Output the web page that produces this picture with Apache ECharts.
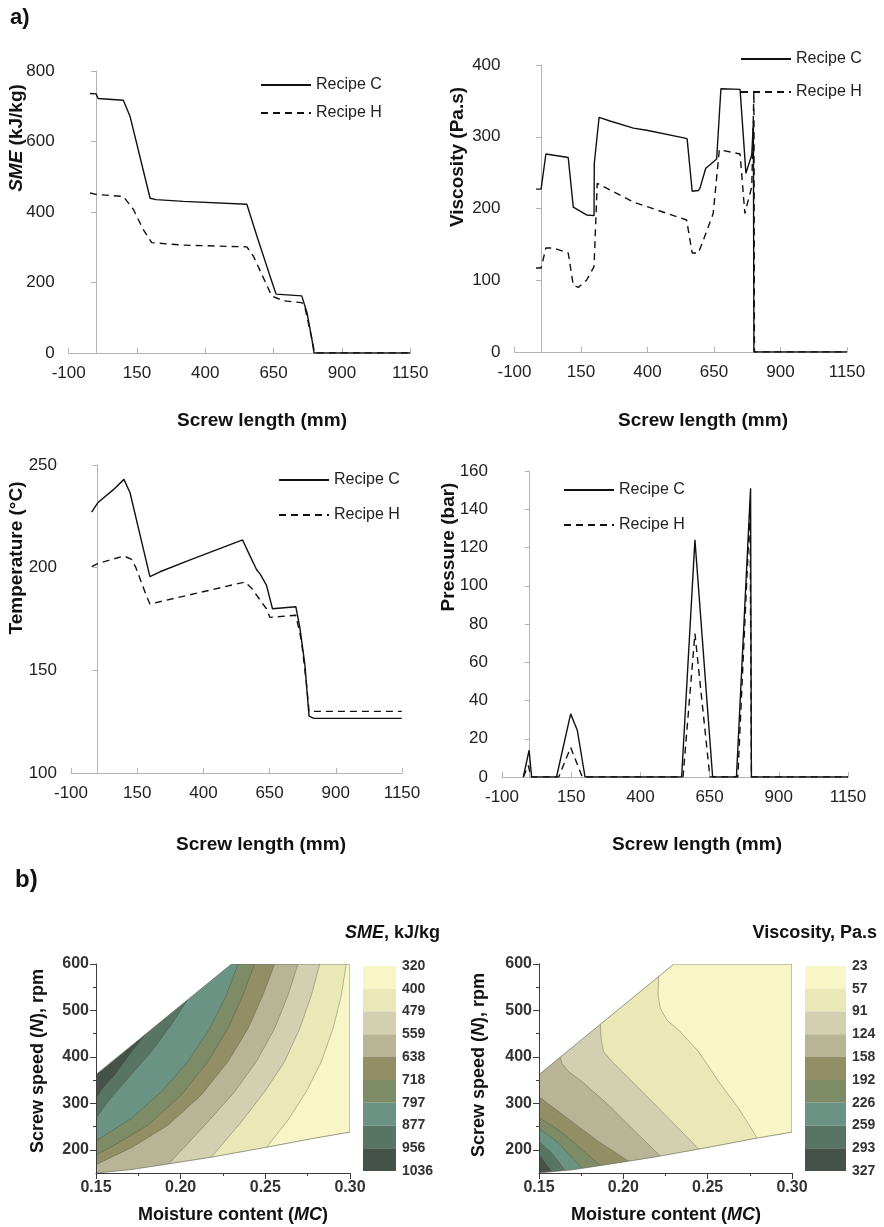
<!DOCTYPE html>
<html>
<head>
<meta charset="utf-8">
<script src="https://cdn.jsdelivr.net/npm/echarts@6/dist/echarts.min.js"></script>
<style>
  html, body { margin: 0; padding: 0; background: #fff; }
  #chart { width: 884px; height: 1227px; }
</style>
</head>
<body>
<div id="chart"></div>
<script>
const FONT = '"Liberation Sans", Arial, Helvetica, sans-serif';

// ---------- a) profiles along the screw ----------
const screwTicks = [-100, 150, 400, 650, 900, 1150];

const smeC = [[-22,736],[0,735],[8,722],[100,717],[125,670],[198,439],[220,435],[320,430],[552,422],[589,331],[637,218],[659,167],[753,162],[772,115],[790,40],[798,0],[1150,0]];
const smeH = [[-22,454],[0,450],[100,444],[137,407],[173,350],[204,313],[320,306],[552,301],[576,275],[643,162],[686,148],[753,143],[765,128],[790,40],[800,0],[1150,0]];

const viscC = [[-19,227],[0,227],[18,276],[102,271],[121,202],[171,191],[199,190],[200,263],[218,327],[259,322],[347,312],[353,310],[397,309],[541,298],[549,297],[568,224],[591,225],[597,228],[619,256],[635,261],[660,269],[666,270],[676,367],[748,366],[770,249],[792,275],[798,321],[800,0],[1150,0]];
const viscH = [[-19,117],[0,117],[18,145],[46,145],[102,138],[121,93],[140,90],[171,100],[199,119],[211,235],[347,209],[547,184],[568,138],[591,138],[610,156],[647,193],[670,282],[748,276],[766,193],[779,212],[792,230],[800,363],[802,0],[1150,0]];

const tempC = [[-22,227],[1,231.6],[60,238],[100,243],[123,236.5],[198,195.6],[236,198],[355,204],[548,213.5],[575,206],[601,199],[614,197],[638,191.5],[661,180],[749,181],[764,171],[783,153],[799,127.7],[817,126.6],[1149,126.6]];
const tempH = [[-22,200.5],[1,202],[100,205.7],[129,204],[145,200],[186,185.9],[198,182.3],[557,193],[582,190],[638,180],[651,175.8],[749,176.8],[770,164.7],[789,143.7],[799,130],[1149,130]];

const pressC = [[-23,0],[-2,14],[7,0],[97,0],[148,33],[172,24.5],[200,0],[549,0],[597,124],[661,0],[747,0],[798,151],[801,0],[1150,0]];
const pressH = [[-23,0],[-5,6],[5,0],[105,0],[148,15.5],[190,0],[554,0],[597,75],[651,0],[752,0],[796,140],[801,0],[1150,0]];

// ---------- b) response surfaces ----------
const mcTicks = [0.15, 0.20, 0.25, 0.30];
const mcMinorTicks = [0.175, 0.225, 0.275];
const speedTicks = [200, 300, 400, 500, 600];
const speedMinorTicks = [250, 350, 450, 550];

// band colours, lightest (lowest level) first
const bandColors = ['#f8f5c6', '#ebe8b7', '#d2d0b0', '#b7b596', '#928f66', '#7e8b67', '#6b9384', '#587464', '#45524a'];
const smeLevels = ['320', '400', '479', '559', '638', '718', '797', '877', '956', '1036'];
const viscLevels = ['23', '57', '91', '124', '158', '192', '226', '259', '293', '327'];

// experimental region (MC, N)
const domainUpper = [[0.15,150],[0.15,362],[0.23,600],[0.30,600],[0.30,238]];
const lowerEdge = [[0.15,150],[0.17,157],[0.19,168],[0.218,184],[0.25,205],[0.279,225],[0.30,238]];

// iso-lines, from the lightest band boundary to the darkest
const smeContours = [
  [[0.2978,600],[0.2949,533],[0.2900,461],[0.2831,390],[0.2742,325],[0.2634,264],[0.2506,204.5]],
  [[0.2821,600],[0.2772,533],[0.2703,461],[0.2614,390],[0.2496,325],[0.2358,260],[0.2181,184]],
  [[0.2693,600],[0.2634,533],[0.2555,461],[0.2447,390],[0.2319,325],[0.2161,260],[0.1929,169.5]],
  [[0.2555,600],[0.2486,533],[0.2398,461],[0.2280,390],[0.2122,318],[0.1925,253],[0.1709,204.5],[0.15,168]],
  [[0.2437,600],[0.2368,533],[0.2280,461],[0.2161,390],[0.2004,318],[0.1807,253],[0.1610,210],[0.15,189]],
  [[0.2339,600],[0.2270,533],[0.2171,461],[0.2043,390],[0.1886,325],[0.1709,268],[0.15,219]],
  [[0.2043,524],[0.1945,469],[0.1827,411],[0.1689,354],[0.1571,304],[0.15,268]],
  [[0.1797,450],[0.1709,411],[0.1610,361],[0.1531,329],[0.15,311]]
];
const viscContours = [
  [[0.2209,573],[0.2206,533],[0.2219,504.5],[0.2259,479],[0.2328,458],[0.2447,411],[0.2565,347],[0.2684,289],[0.2792,226]],
  [[0.1864,470.5],[0.1868,440],[0.1883,411],[0.1933,390],[0.2032,354],[0.2170,304],[0.2308,253],[0.2447,201.5]],
  [[0.1626,400],[0.1636,386],[0.1676,368],[0.1755,347],[0.1913,296],[0.2071,239],[0.2219,186.5]],
  [[0.15,314],[0.1577,293],[0.1696,260.5],[0.1854,217.5],[0.2032,175.5]],
  [[0.15,269],[0.1617,242.5],[0.1735,207],[0.1864,166]],
  [[0.15,246],[0.1617,214],[0.1755,160]],
  [[0.15,217.5],[0.1577,192.4],[0.1656,155.5]],
  [[0.15,189],[0.1577,152.7]]
];

// ---------- helpers ----------
const AXIS_GREY = '#b4b4b4';

function lineAxes(gi, ymin, ymax, yint) {
  return {
    x: {
      type: 'value', gridIndex: gi, min: -100, max: 1150,
      axisLine: { show: true, lineStyle: { color: AXIS_GREY, width: 1 } },
      axisTick: { show: true, inside: true, length: 5, customValues: screwTicks, lineStyle: { color: AXIS_GREY } },
      axisLabel: { customValues: screwTicks, formatter: v => String(v), fontSize: 17, color: '#222', margin: 12, fontFamily: FONT },
      splitLine: { show: false }
    },
    y: {
      type: 'value', gridIndex: gi, min: ymin, max: ymax, interval: yint,
      axisLine: { show: true, onZero: true, lineStyle: { color: AXIS_GREY, width: 1 } },
      axisTick: { show: true, length: 5, lineStyle: { color: AXIS_GREY } },
      axisLabel: { formatter: v => String(v), fontSize: 17, color: '#222', margin: 14, fontFamily: FONT },
      splitLine: { show: false }
    }
  };
}

function lineSeries(name, data, gi, dashed) {
  return {
    type: 'line', name: name, data: data, xAxisIndex: gi, yAxisIndex: gi,
    symbol: 'none', showSymbol: false, smooth: false, silent: true,
    itemStyle: { color: '#111' },
    lineStyle: { color: '#111', width: 1.4, type: dashed ? [7, 5] : 'solid' }
  };
}

function contourAxes(gi) {
  const ls = { color: '#3c3c3c', width: 1 };
  const lab = { fontSize: 16, fontWeight: 'bold', color: '#333', fontFamily: FONT };
  return {
    x: [
      { type: 'value', gridIndex: gi, min: 0.15, max: 0.30, position: 'bottom', z: 5,
        axisLine: { show: true, onZero: false, lineStyle: ls },
        axisTick: { show: true, length: 6, customValues: mcTicks, lineStyle: ls },
        axisLabel: Object.assign({ customValues: mcTicks, margin: 7, formatter: v => v.toFixed(2) }, lab),
        splitLine: { show: false } },
      { type: 'value', gridIndex: gi, min: 0.15, max: 0.30, position: 'bottom', z: 5,
        axisLine: { show: false, onZero: false },
        axisTick: { show: true, length: 3, customValues: mcMinorTicks, lineStyle: ls },
        axisLabel: { show: false }, splitLine: { show: false } }
    ],
    y: [
      { type: 'value', gridIndex: gi, min: 150, max: 600, position: 'left', z: 5,
        axisLine: { show: true, onZero: false, lineStyle: ls },
        axisTick: { show: true, length: 6, customValues: speedTicks, lineStyle: ls },
        axisLabel: Object.assign({ customValues: speedTicks, margin: 7 }, lab),
        splitLine: { show: false } },
      { type: 'value', gridIndex: gi, min: 150, max: 600, position: 'left', z: 5,
        axisLine: { show: false, onZero: false },
        axisTick: { show: true, length: 3, customValues: speedMinorTicks, lineStyle: ls },
        axisLabel: { show: false }, splitLine: { show: false } }
    ]
  };
}

// point pushed outside the plotting window, away from the region
function extendPoint(p) {
  if (p[0] <= 0.1501) return [0.10, p[1]];
  if (p[1] > 300) return [p[0], 700];
  return [p[0], 100];
}

function contourRenderer(contours, corners) {
  return function (params, api) {
    const P = pts => pts.map(p => api.coord(p));
    const domain = domainUpper.concat(lowerEdge.slice().reverse());
    const children = [];
    children.push({ type: 'polygon', shape: { points: P(domain) }, style: { fill: bandColors[bandColors.length - 1] } });
    for (let k = contours.length - 1; k >= 0; k--) {
      const c = contours[k];
      const poly = [extendPoint(c[0])].concat(c, [extendPoint(c[c.length - 1])], corners);
      children.push({ type: 'polygon', shape: { points: P(poly) }, style: { fill: bandColors[k] } });
    }
    contours.forEach(c => {
      children.push({ type: 'polyline', shape: { points: P(c) }, style: { stroke: 'rgba(70,72,50,0.45)', lineWidth: 0.8, fill: null } });
    });
    // blank out everything outside the experimental region
    const upperMask = [[0.15,362],[0.23,600],[0.23,700],[0.10,700],[0.10,362]];
    const lowerMask = lowerEdge.concat([[0.40,238],[0.40,100],[0.10,100],[0.10,150]]);
    children.push({ type: 'polygon', shape: { points: P(upperMask) }, style: { fill: '#fff' } });
    children.push({ type: 'polygon', shape: { points: P(lowerMask) }, style: { fill: '#fff' } });
    children.push({ type: 'polygon', shape: { points: P(domain) }, style: { fill: null, stroke: 'rgba(110,112,95,0.7)', lineWidth: 1 } });
    return { type: 'group', children: children };
  };
}

function colorbarSeries(gi) {
  return {
    type: 'custom', xAxisIndex: gi, yAxisIndex: gi, silent: true,
    data: bandColors.map((c, i) => [0, i]),
    renderItem: function (params, api) {
      const i = api.value(1);
      const a = api.coord([0, i]);
      const b = api.coord([1, i + 1]);
      return { type: 'rect', shape: { x: a[0], y: a[1], width: b[0] - a[0], height: b[1] - a[1] }, style: { fill: bandColors[i] } };
    }
  };
}

function colorbarAxes(gi, levels) {
  return {
    x: { type: 'value', gridIndex: gi, min: 0, max: 1, show: false },
    y: { type: 'value', gridIndex: gi, min: 0, max: 9, interval: 1, inverse: true, position: 'right',
         axisLine: { show: false }, axisTick: { show: false }, splitLine: { show: false },
         axisLabel: { formatter: v => levels[v], margin: 6, fontSize: 14, fontWeight: 'bold', color: '#333', fontFamily: FONT } }
  };
}

function text(str, x, y, opts) {
  const o = Object.assign({ fontSize: 19, fontWeight: 'bold', align: 'center', rotate: false }, opts || {});
  return {
    type: 'text', x: x, y: y, rotation: o.rotate ? Math.PI / 2 : 0, silent: true,
    style: {
      text: str, fill: '#111', fontFamily: FONT, fontSize: o.fontSize, fontWeight: o.fontWeight,
      align: o.align, verticalAlign: 'middle',
      rich: { i: { fontStyle: 'italic', fontWeight: o.fontWeight, fontSize: o.fontSize, fontFamily: FONT, fill: '#111' } }
    }
  };
}

// ---------- assemble ----------
const a1 = lineAxes(0, 0, 800, 200);
const a2 = lineAxes(1, 0, 400, 100);
const a3 = lineAxes(2, 100, 250, 50);
const a4 = lineAxes(3, 0, 160, 20);
const cSME = contourAxes(4);
const cVisc = contourAxes(5);
const bSME = colorbarAxes(6, smeLevels);
const bVisc = colorbarAxes(7, viscLevels);

const legendBase = {
  orient: 'vertical', padding: 0, itemWidth: 50, itemHeight: 14, selectedMode: false,
  data: ['Recipe C', 'Recipe H'],
  itemStyle: { color: 'rgba(0,0,0,0)', borderColor: 'rgba(0,0,0,0)', borderWidth: 0 },
  textStyle: { fontSize: 16, color: '#222', fontFamily: FONT }
};

const option = {
  backgroundColor: '#fff',
  animation: false,
  textStyle: { fontFamily: FONT },
  grid: [
    { left: 68.7, top: 71, width: 341.5, height: 282 },
    { left: 514.5, top: 65, width: 332.5, height: 287 },
    { left: 71, top: 465, width: 331, height: 308 },
    { left: 502, top: 471, width: 346, height: 306 },
    { left: 96, top: 964, width: 254, height: 209 },
    { left: 539, top: 964, width: 253, height: 209 },
    { left: 363, top: 966, width: 33, height: 205 },
    { left: 805, top: 966, width: 41, height: 205 }
  ],
  xAxis: [a1.x, a2.x, a3.x, a4.x, cSME.x[0], cVisc.x[0], bSME.x, bVisc.x, cSME.x[1], cVisc.x[1]],
  yAxis: [a1.y, a2.y, a3.y, a4.y, cSME.y[0], cVisc.y[0], bSME.y, bVisc.y, cSME.y[1], cVisc.y[1]],
  legend: [
    Object.assign({ left: 260, top: 77, itemGap: 12 }, legendBase),
    Object.assign({ left: 740, top: 51, itemGap: 17 }, legendBase),
    Object.assign({ left: 278, top: 472, itemGap: 19 }, legendBase),
    Object.assign({ left: 563, top: 482, itemGap: 19 }, legendBase)
  ],
  series: [
    lineSeries('Recipe C', smeC, 0, false), lineSeries('Recipe H', smeH, 0, true),
    lineSeries('Recipe C', viscC, 1, false), lineSeries('Recipe H', viscH, 1, true),
    lineSeries('Recipe C', tempC, 2, false), lineSeries('Recipe H', tempH, 2, true),
    lineSeries('Recipe C', pressC, 3, false), lineSeries('Recipe H', pressH, 3, true),
    { type: 'custom', xAxisIndex: 4, yAxisIndex: 4, clip: true, silent: true, z: 1, data: [[0.2, 400]],
      renderItem: contourRenderer(smeContours, [[0.10,100],[0.40,100],[0.40,700]]) },
    { type: 'custom', xAxisIndex: 5, yAxisIndex: 5, clip: true, silent: true, z: 1, data: [[0.2, 400]],
      renderItem: contourRenderer(viscContours, [[0.40,100],[0.40,700],[0.10,700]]) },
    colorbarSeries(6),
    colorbarSeries(7)
  ],
  graphic: [
    text('a)', 10, 18, { fontSize: 22, align: 'left' }),
    text('b)', 15, 880, { fontSize: 24, align: 'left' }),
    text('{i|SME} (kJ/kg)', 16.5, 138, { rotate: true }),
    text('Viscosity (Pa.s)', 458, 157, { rotate: true }),
    text('Temperature (°C)', 17, 558, { rotate: true }),
    text('Pressure (bar)', 449, 547, { rotate: true }),
    text('Screw length (mm)', 262, 421),
    text('Screw length (mm)', 703, 421),
    text('Screw length (mm)', 261, 845),
    text('Screw length (mm)', 697, 845),
    text('{i|SME}, kJ/kg', 440, 933, { fontSize: 18, align: 'right' }),
    text('Viscosity, Pa.s', 877, 933, { fontSize: 18, align: 'right' }),
    text('Screw speed ({i|N}), rpm', 38, 1061, { fontSize: 18, rotate: true }),
    text('Screw speed ({i|N}), rpm', 479, 1065, { fontSize: 18, rotate: true }),
    text('Moisture content ({i|MC})', 233, 1215, { fontSize: 18 }),
    text('Moisture content ({i|MC})', 666, 1215, { fontSize: 18 })
  ]
};

const chart = echarts.init(document.getElementById('chart'));
chart.setOption(option);
</script>
</body>
</html>
